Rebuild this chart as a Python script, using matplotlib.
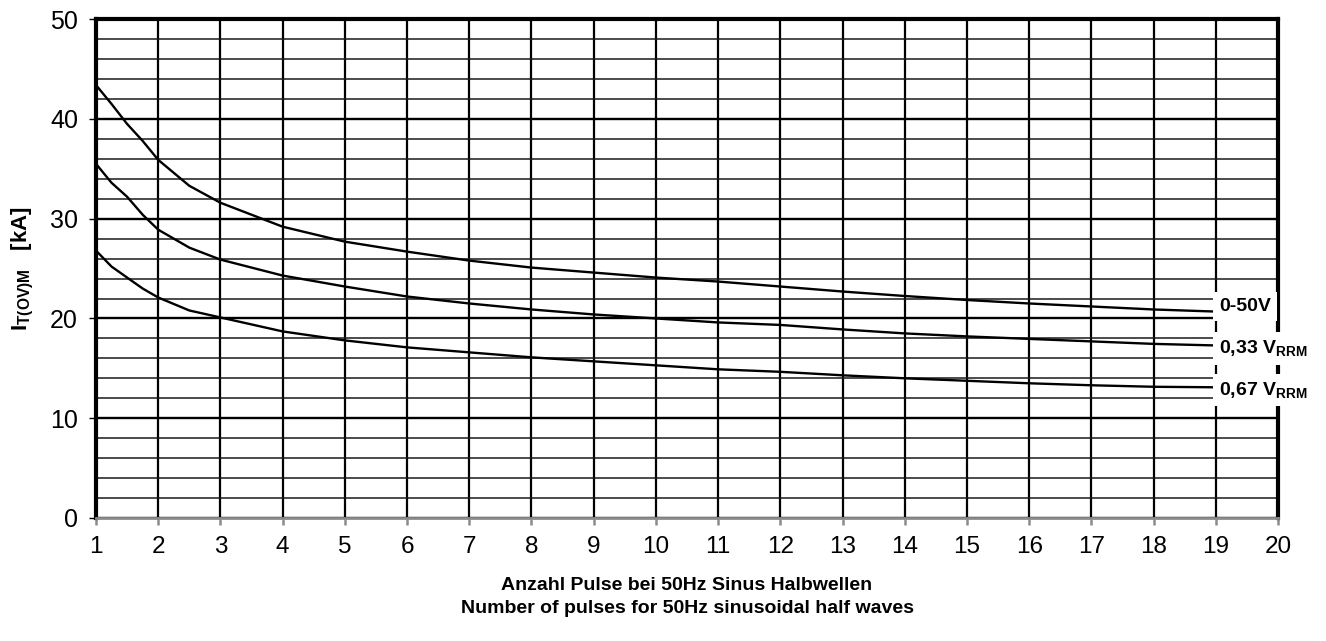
import numpy as np
import matplotlib.pyplot as plt
from matplotlib.ticker import MultipleLocator

plt.rcParams['font.family'] = ['Liberation Sans', 'DejaVu Sans']
plt.rcParams['mathtext.fontset'] = 'custom'
plt.rcParams['mathtext.rm'] = 'Liberation Sans:bold'
plt.rcParams['mathtext.it'] = 'Liberation Sans:bold'
plt.rcParams['mathtext.bf'] = 'Liberation Sans:bold'

# pulses (50Hz half waves) vs. surge current I_T(OV)M [kA]
pulses = [1, 1.25, 1.5, 1.75, 2, 2.5, 3, 4, 5, 6, 7, 8, 9, 10, 11, 12, 13,
          14, 15, 16, 17, 18, 18.95]
i_0_50v = [43.4, 41.5, 39.5, 37.8, 35.9, 33.3, 31.6, 29.2, 27.7, 26.7, 25.8,
           25.1, 24.6, 24.1, 23.7, 23.2, 22.7, 22.25, 21.85, 21.5, 21.2, 20.9, 20.7]
i_033 = [35.5, 33.6, 32.2, 30.4, 28.9, 27.1, 25.9, 24.3, 23.2, 22.2, 21.5,
         20.9, 20.4, 20.0, 19.6, 19.35, 18.9, 18.5, 18.2, 17.95, 17.7, 17.45, 17.3]
i_067 = [26.8, 25.2, 24.1, 23.0, 22.1, 20.8, 20.1, 18.7, 17.8, 17.1, 16.6,
         16.1, 15.7, 15.3, 14.9, 14.65, 14.3, 14.0, 13.75, 13.5, 13.3, 13.15, 13.1]

curve_labels = ['0-50V', r'0,33 V$_{\mathrm{RRM}}$', r'0,67 V$_{\mathrm{RRM}}$']
label_y = [21.2, 17.0, 12.8]

fig = plt.figure(figsize=(13.26, 6.41), dpi=100)
ax = fig.add_axes([0.0724, 0.192, 0.8914, 0.778])

ax.set_xlim(1, 20)
ax.set_ylim(0, 50)
ax.xaxis.set_major_locator(MultipleLocator(1))
ax.yaxis.set_major_locator(MultipleLocator(10))
ax.yaxis.set_minor_locator(MultipleLocator(2))

ax.grid(True, axis='x', which='major', color='black', lw=1.6, zorder=1)
ax.grid(True, axis='y', which='major', color='black', lw=1.7, zorder=1)
ax.grid(True, axis='y', which='minor', color='#1a1a1a', lw=1.1, zorder=1)
ax.set_axisbelow(True)

for y in (i_0_50v, i_033, i_067):
    ax.plot(pulses, y, color='black', lw=1.7, zorder=3)

for txt, ly in zip(curve_labels, label_y):
    ax.text(19.05, ly, txt, fontsize=14, fontweight='bold', va='center',
            ha='left', clip_on=False, zorder=10,
            bbox=dict(facecolor='white', edgecolor='none', pad=4.5))

for side in ('left', 'top', 'right'):
    ax.spines[side].set_linewidth(3)
    ax.spines[side].set_color('black')
ax.spines['bottom'].set_linewidth(2)
ax.spines['bottom'].set_color('#8c8c8c')

ax.tick_params(axis='y', which='major', direction='out', length=5, width=1,
               color='black', labelsize=18, pad=8)
ax.tick_params(axis='y', which='minor', length=0)
ax.tick_params(axis='x', direction='out', length=5, width=1.8,
               color='#8c8c8c', labelsize=17.5, pad=8)

ax.set_ylabel(r'$\mathrm{I}_{\mathrm{T(OV)M}}$   [kA]', fontsize=16,
              fontweight='bold', labelpad=10)
ax.set_xlabel('Anzahl Pulse bei 50Hz Sinus Halbwellen\n'
              'Number of pulses for 50Hz sinusoidal half waves',
              fontsize=14, fontweight='bold', labelpad=14, linespacing=1.45)

fig.savefig('out.png', dpi=100)
